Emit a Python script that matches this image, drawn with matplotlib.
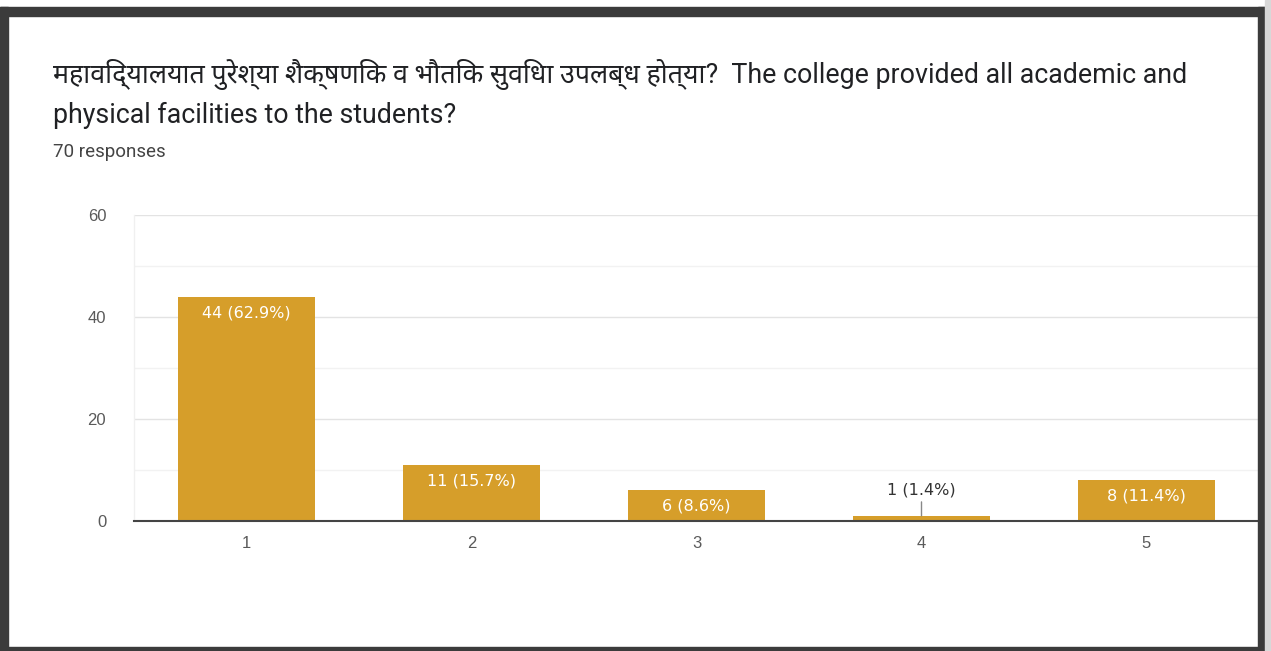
import matplotlib
matplotlib.use("Agg")
import matplotlib.pyplot as plt
from matplotlib.patches import Rectangle

categories = ["1", "2", "3", "4", "5"]
counts = [44, 11, 6, 1, 8]
labels = ["44 (62.9%)", "11 (15.7%)", "6 (8.6%)", "1 (1.4%)", "8 (11.4%)"]
yticks = [0, 20, 40, 60]
title_line1 = "महाविद्यालयात पुरेश्या शैक्षणिक व भौतिक सुविधा उपलब्ध होत्या?  The college provided all academic and"
title_line2 = "physical facilities to the students?"
subtitle = "70 responses"

W, H = 1271, 651
fig = plt.figure(figsize=(W / 100, H / 100), dpi=100)
fig.patch.set_facecolor("white")

fam = ["Roboto", "DejaVu Sans"]
tick_fam = ["Liberation Sans", "DejaVu Sans"]
lab_fam = ["DejaVu Sans"]

# axes placement in pixels
left, right, top, bottom = 134, 1259, 215, 521
ax = fig.add_axes([left / W, 1 - bottom / H, (right - left) / W, (bottom - top) / H])
ax.set_facecolor("white")

x = list(range(1, len(categories) + 1))
bar_color = "#D69E2A"
ax.bar(x, counts, width=0.61, color=bar_color, zorder=3)
ax.set_xlim(0.5, 5.5)
ax.set_ylim(0, 60)
ax.set_yticks(yticks)
ax.set_yticks([10, 30, 50], minor=True)
ax.set_xticks(x)
ax.set_xticklabels(categories)
ax.grid(axis="y", which="major", color="#e3e3e3", linewidth=1, zorder=0)
ax.grid(axis="y", which="minor", color="#f2f2f2", linewidth=1, zorder=0)
for s in ["top", "right"]:
    ax.spines[s].set_visible(False)
ax.spines["left"].set_color("#f0f0f0")
ax.spines["left"].set_linewidth(1)
ax.spines["bottom"].set_color("#444444")
ax.spines["bottom"].set_linewidth(1.5)
ax.spines["bottom"].set_zorder(4)
ax.tick_params(axis="both", which="both", length=0, colors="#5a5a5a", labelsize=12)
ax.tick_params(axis="y", pad=20)
ax.tick_params(axis="x", pad=11)
for t in ax.get_xticklabels() + ax.get_yticklabels():
    t.set_fontfamily(tick_fam)

px_per_unit = (bottom - top) / 60.0
for xi, c, lab in zip(x, counts, labels):
    if c >= 4:
        ax.annotate(lab, (xi, c), xytext=(0, -16), textcoords="offset pixels",
                    ha="center", va="center", color="white", fontsize=11.5,
                    family=lab_fam, zorder=5)
    else:
        ax.annotate(lab, (xi, c), xytext=(0, 26), textcoords="offset pixels",
                    ha="center", va="center", color="#333333", fontsize=11.5,
                    family=lab_fam, zorder=5)
        ax.annotate("", (xi, c), xytext=(xi, c + 14 / px_per_unit),
                    arrowprops=dict(arrowstyle="-", color="#888888", lw=1,
                                    shrinkA=0, shrinkB=0), zorder=5)

fig.text(53 / W, 1 - 75 / H, title_line1, ha="left", va="center", fontsize=19.3,
         color="#202124", family=["Roboto", "Noto Sans", "DejaVu Sans"])
fig.text(53 / W, 1 - 115 / H, title_line2, ha="left", va="center", fontsize=19.3,
         color="#202124", family=fam)
fig.text(53 / W, 1 - 152 / H, subtitle, ha="left", va="center", fontsize=13.5,
         color="#444444", family=fam)

# dark frame around the screenshot
border = "#3b3b3b"
fig.patches.append(Rectangle((0, 0), 8 / W, 1 - 7 / H, transform=fig.transFigure,
                             color=border, zorder=10))
fig.patches.append(Rectangle((0, 1 - 16 / H), 1265 / W, 9 / H, transform=fig.transFigure,
                             color=border, zorder=10))
fig.patches.append(Rectangle((1258 / W, 0), 7 / W, 1 - 7 / H, transform=fig.transFigure,
                             color=border, zorder=10))
fig.patches.append(Rectangle((0, 0), 1265 / W, 4 / H, transform=fig.transFigure,
                             color=border, zorder=10))
fig.patches.append(Rectangle((1265 / W, 0), 6 / W, 1, transform=fig.transFigure,
                             color="#d8d8d8", zorder=10))

fig.savefig("out.png", dpi=100, facecolor="white")
